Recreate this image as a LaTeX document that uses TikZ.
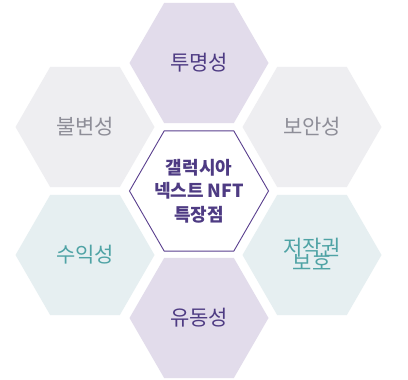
\documentclass[tikz,border=0pt]{standalone}
\usepackage{fontspec}
\setmainfont{Noto Sans CJK KR}
\usetikzlibrary{shapes.geometric}
\definecolor{lav}{HTML}{E2DCEB}
\definecolor{grayfill}{HTML}{EEEEF1}
\definecolor{bluefill}{HTML}{E6EFF1}
\definecolor{purpletext}{HTML}{4E3B83}
\definecolor{graytext}{HTML}{8E8E98}
\definecolor{tealtext}{HTML}{4FA3A5}
\definecolor{border}{HTML}{5A3F8E}
\newcommand\mytightlines{\lineskiplimit=-50pt\relax\lineskip=0pt\relax}
\tikzset{
  hexa/.style={regular polygon, regular polygon sides=6, minimum size=139pt, inner sep=0pt, outer sep=0pt, draw=none},
  label21/.style={align=center, inner sep=0pt, font=\fontsize{21}{23}\selectfont},
  purplehex/.style={hexa, fill=lav},
  grayhex/.style={hexa, fill=grayfill},
  bluehex/.style={hexa, fill=bluefill},
  centerhex/.style={hexa, fill=white, draw=border, line width=0.9pt},
  centertext/.style={align=center, inner sep=0pt, text=purpletext, font=\bfseries\fontsize{18}{23.5}\selectfont}
}
\begin{document}
\begin{tikzpicture}[x=1pt,y=-1pt]
\useasboundingbox (0,0) rectangle (408,380);
\fill[white] (0,0) rectangle (408,380);
\node[purplehex] (top) at (199,63) {};
\node[purplehex] (bottom) at (199,318) {};
\node[grayhex] (tl) at (85,127) {};
\node[grayhex] (tr) at (312,127) {};
\node[bluehex] (bl) at (85,255) {};
\node[bluehex] (br) at (312,255) {};
\node[centerhex] (c) at (199,191) {};
\node[label21, text=purpletext] (ttop) at (top) {투명성};
\node[label21, text=purpletext] (tbottom) at (bottom) {유동성};
\node[label21, text=graytext] (ttl) at (tl) {불변성};
\node[label21, text=graytext] (ttr) at (tr) {보안성};
\node[label21, text=tealtext] (tbl) at (bl) {수익성};
\node[label21, text=tealtext, font={\fontsize{21}{15}\selectfont\mytightlines}] (tbr) at (312,254) {저작권\\보호};
\node[centertext] (tc) at (c) {갤럭시아\\넥스트 NFT\\특장점};
\end{tikzpicture}
\end{document}
